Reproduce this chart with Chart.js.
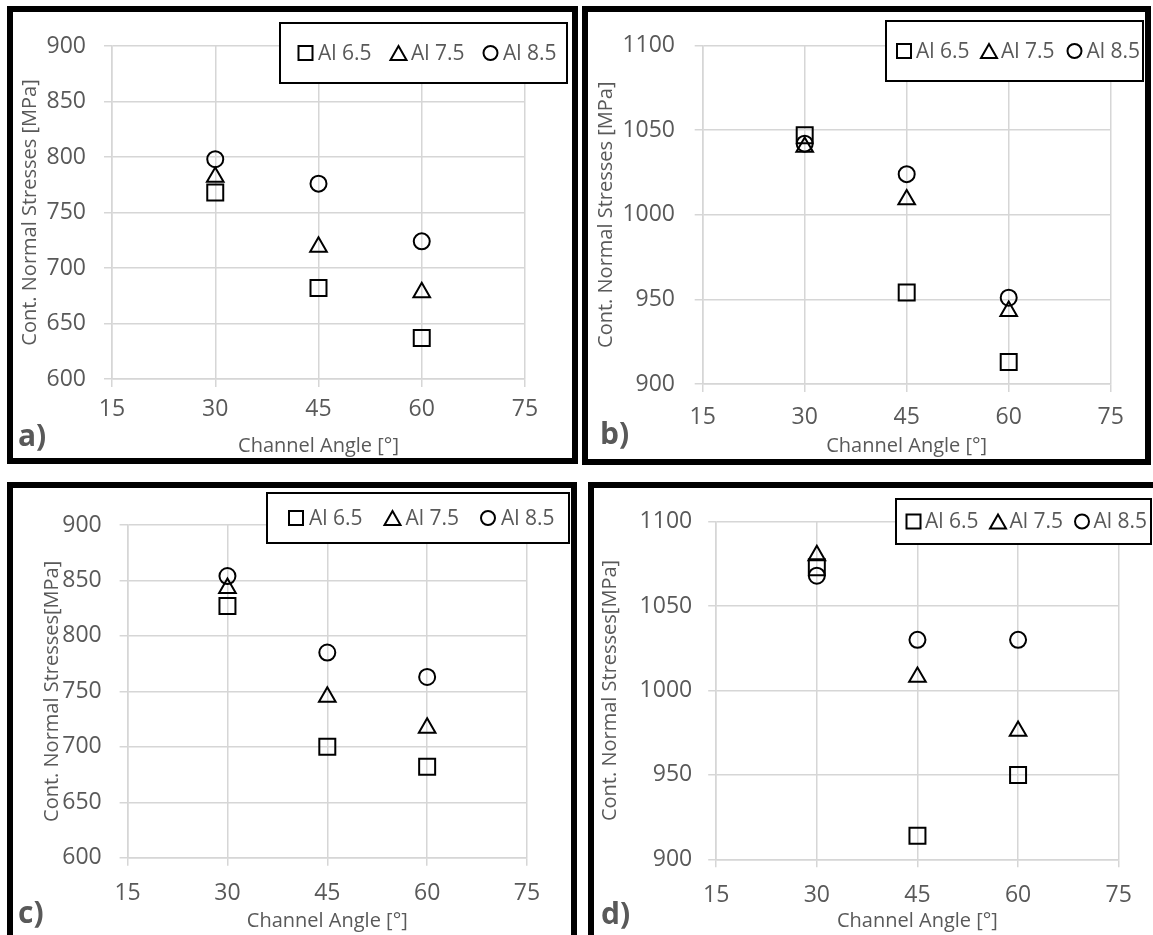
<!DOCTYPE html>
<html>
<head>
<meta charset="utf-8">
<title>Contact normal stresses vs channel angle</title>
<script src="https://cdn.jsdelivr.net/npm/chart.js@4.4.1/dist/chart.umd.min.js"></script>
<style>
  html, body { margin: 0; padding: 0; background: #fff; width: 1153px; height: 935px; overflow: hidden; }
  .panel { position: absolute; border: 6px solid #000; box-sizing: border-box; background: #fff; }
  .panel canvas { position: absolute; left: 0; top: 0; }
</style>
</head>
<body>
<div class="panel" style="left:7px;top:6px;width:571px;height:458px"><canvas id="chartA" width="559" height="446"></canvas></div>
<div class="panel" style="left:582px;top:6px;width:569px;height:459px"><canvas id="chartB" width="557" height="447"></canvas></div>
<div class="panel" style="left:7px;top:482px;width:570px;height:470px"><canvas id="chartC" width="558" height="447"></canvas></div>
<div class="panel" style="left:588px;top:482px;width:580px;height:470px"><canvas id="chartD" width="559" height="447"></canvas></div>

<script>
// ---- data ----
const angles = [30, 45, 60];
const xTickValues = [15, 30, 45, 60, 75];
const yTicksLow = [600, 650, 700, 750, 800, 850, 900];
const yTicksHigh = [900, 950, 1000, 1050, 1100];
const seriesNames = ['Al 6.5', 'Al 7.5', 'Al 8.5'];

// a) contact normal stresses [MPa]
const aAl65 = [768, 682, 637];
const aAl75 = [782, 719, 678];
const aAl85 = [798, 776, 724];
// b)
const bAl65 = [1047, 954, 913];
const bAl75 = [1040, 1009, 943];
const bAl85 = [1042, 1024, 951];
// c)
const cAl65 = [827, 700, 682];
const cAl75 = [843, 745, 717];
const cAl85 = [854, 785, 763];
// d)
const dAl65 = [1073, 914, 950];
const dAl75 = [1080, 1008, 976];
const dAl85 = [1068, 1030, 1030];

// ---- styling ----
const FONT = '"Open Sans", "Noto Sans", sans-serif';
const TEXT = '#595959';
const GRID = '#d6d6d6';
const markerStyles = ['rect', 'triangle', 'circle'];
const markerRadius = [11.3, 9.6, 8];

const panels = [
  { canvas: 'chartA', tag: 'a)', yTitle: 'Cont. Normal Stresses [MPa]', yTicks: yTicksLow,
    series: [aAl65, aAl75, aAl85],
    padTop: 34, padRight: 47, yWidth: 99, xHeight: 79,
    yTickPad: 18, yTitlePad: 5.5, xTickPad: 9, xTitlePad: 0, tagAt: [5, 425],
    legend: { x: 267, y: 11, w: 287, h: 60, marks: [292.5, 385.5, 477.5], gap: 12.5 } },
  { canvas: 'chartB', tag: 'b)', yTitle: 'Cont. Normal Stresses [MPa]', yTicks: yTicksHigh,
    series: [bAl65, bAl75, bAl85],
    padTop: 30.7, padRight: 34.3, yWidth: 114.7, xHeight: 75,
    yTickPad: 19.7, yTitlePad: 6, xTickPad: 12, xTitlePad: 1, tagAt: [12, 423],
    legend: { x: 298, y: 9, w: 257, h: 60, marks: [316, 401, 486.5], gap: 12 } },
  { canvas: 'chartC', tag: 'c)', yTitle: 'Cont. Normal Stresses[MPa]', yTicks: yTicksLow,
    series: [cAl65, cAl75, cAl85],
    padTop: 37, padRight: 44, yWidth: 114.6, xHeight: 77.3,
    yTickPad: 17.9, yTitlePad: 27, xTickPad: 14, xTitlePad: 1.3, tagAt: [5, 426],
    legend: { x: 254, y: 5, w: 302, h: 50, marks: [283, 379.5, 475], gap: 13 } },
  { canvas: 'chartD', tag: 'd)', yTitle: 'Cont. Normal Stresses[MPa]', yTicks: yTicksHigh,
    series: [dAl65, dAl75, dAl85],
    padTop: 33.7, padRight: 34.3, yWidth: 122.2, xHeight: 75.7,
    yTickPad: 16, yTitlePad: 4, xTickPad: 14, xTitlePad: 1.3, tagAt: [7, 427],
    legend: { x: 302, y: 11, w: 255, h: 45, marks: [319.5, 404, 488], gap: 11.5 } }
];

// draws a hollow legend symbol of the given style
function legendSymbol(ctx, style, cx, cy) {
  ctx.beginPath();
  if (style === 'rect') {
    ctx.rect(cx - 7, cy - 7, 14, 14);
  } else if (style === 'triangle') {
    ctx.moveTo(cx, cy - 7);
    ctx.lineTo(cx + 8, cy + 7);
    ctx.lineTo(cx - 8, cy + 7);
    ctx.closePath();
  } else {
    ctx.arc(cx, cy, 7, 0, Math.PI * 2);
  }
  ctx.stroke();
}

// boxed legend inside the plot and the panel letter
const panelDecor = {
  id: 'panelDecor',
  afterDraw(chart, args, opts) {
    const ctx = chart.ctx;
    const lg = opts.legend;
    ctx.save();
    ctx.fillStyle = '#fff';
    ctx.fillRect(lg.x, lg.y, lg.w, lg.h);
    ctx.strokeStyle = '#000';
    ctx.lineWidth = 2;
    ctx.strokeRect(lg.x, lg.y, lg.w, lg.h);
    const cy = lg.y + lg.h / 2;
    ctx.font = '21px ' + FONT;
    ctx.textBaseline = 'middle';
    ctx.textAlign = 'left';
    chart.data.datasets.forEach((ds, i) => {
      ctx.strokeStyle = '#000';
      ctx.lineWidth = 2;
      legendSymbol(ctx, ds.pointStyle, lg.marks[i], cy);
      ctx.fillStyle = TEXT;
      ctx.fillText(ds.label, lg.marks[i] + lg.gap, cy + 1);
    });
    ctx.font = 'bold 30px ' + FONT;
    ctx.fillStyle = TEXT;
    ctx.fillText(opts.tag, opts.tagAt[0], opts.tagAt[1]);
    ctx.restore();
  }
};

panels.forEach(p => {
  const datasets = p.series.map((vals, i) => ({
    label: seriesNames[i],
    data: angles.map((a, k) => ({ x: a, y: vals[k] })),
    pointStyle: markerStyles[i],
    pointRadius: markerRadius[i],
    pointBorderWidth: 2,
    pointBorderColor: '#000',
    pointBackgroundColor: 'rgba(0,0,0,0)',
    showLine: false,
    clip: false
  }));

  new Chart(document.getElementById(p.canvas), {
    type: 'scatter',
    data: { datasets },
    plugins: [panelDecor],
    options: {
      responsive: false,
      animation: false,
      devicePixelRatio: 1,
      layout: { padding: { left: 0, top: p.padTop, right: p.padRight, bottom: 0 } },
      plugins: {
        legend: { display: false },
        tooltip: { enabled: false },
        panelDecor: { legend: p.legend, tag: p.tag, tagAt: p.tagAt }
      },
      scales: {
        x: {
          type: 'linear',
          min: xTickValues[0],
          max: xTickValues[xTickValues.length - 1],
          afterBuildTicks: s => { s.ticks = xTickValues.map(v => ({ value: v })); },
          afterFit: s => { s.height = p.xHeight; },
          grid: { color: GRID, lineWidth: 1.5, tickLength: 8 },
          border: { color: GRID, width: 1.5 },
          ticks: { color: TEXT, font: { family: FONT, size: 23 }, padding: p.xTickPad, maxRotation: 0,
                   callback: v => String(v) },
          title: { display: true, text: 'Channel Angle [°]', color: TEXT,
                   font: { family: FONT, size: 20 }, padding: { top: 0, bottom: p.xTitlePad } }
        },
        y: {
          type: 'linear',
          min: p.yTicks[0],
          max: p.yTicks[p.yTicks.length - 1],
          afterBuildTicks: s => { s.ticks = p.yTicks.map(v => ({ value: v })); },
          afterFit: s => { s.width = p.yWidth; },
          grid: { color: GRID, lineWidth: 1.5, tickLength: 8 },
          border: { color: GRID, width: 1.5 },
          ticks: { color: TEXT, font: { family: FONT, size: 23 }, padding: p.yTickPad,
                   callback: v => String(v) },
          title: { display: true, text: p.yTitle, color: TEXT,
                   font: { family: FONT, size: 20 }, padding: { top: p.yTitlePad, bottom: 0 } }
        }
      }
    }
  });
});
</script>
</body>
</html>
